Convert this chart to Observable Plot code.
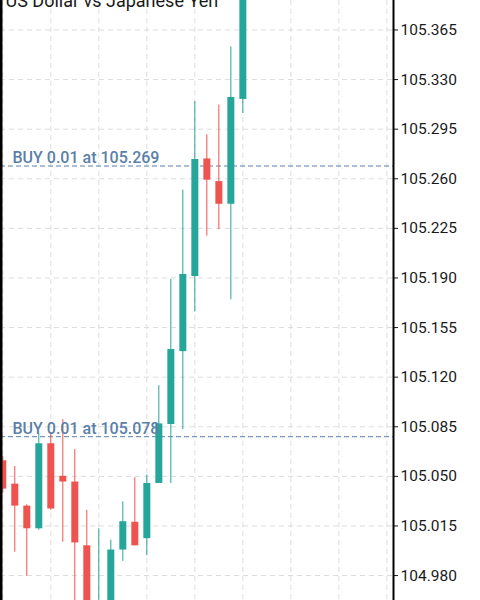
<!DOCTYPE html>
<html><head><meta charset="utf-8">
<script src="https://cdn.jsdelivr.net/npm/d3@7"></script>
<script src="https://cdn.jsdelivr.net/npm/@observablehq/plot@0.6"></script>
<style>body{margin:0;background:#fff;} svg{font-family:Roboto,sans-serif;}</style>
</head><body><div id="chart"></div>
<script>
const title = "US Dollar vs Japanese Yen";
const bars   = [0,1,2,3,4,5,6,7,8,9,10,11,12,13,14,15,16,17,18,19,20];
const opens  = [105.061,105.0445,105.029,105.013,105.073,105.050,105.046,105.001,104.950,104.958,104.998,105.0176,105.006,105.045,105.0866,105.138,105.191,105.274,105.258,105.242,105.316];
const closes = [105.041,105.029,105.013,105.073,105.027,105.046,105.003,104.950,104.958,104.998,105.018,105.001,105.045,105.087,105.1395,105.1925,105.2736,105.259,105.242,105.3174,105.400];
const highs  = [105.064,105.057,105.030,105.080,105.081,105.090,105.069,105.026,105.013,105.005,105.032,105.049,105.051,105.114,105.189,105.252,105.3145,105.291,105.312,105.353,105.410];
const lows   = [105.038,104.9965,104.9795,105.012,105.026,105.0035,104.955,104.945,104.945,104.955,104.990,105.001,104.994,105.045,105.045,105.083,105.166,105.2195,105.224,105.1746,105.306];
const yTicks = [104.980,105.015,105.050,105.085,105.120,105.155,105.190,105.225,105.260,105.295,105.330,105.365];
const gridBars = [0,4,8,12,16,20,24,28,32];
const orderPrices = [105.269,105.078];
const orderLabels = ["BUY 0.01 at 105.269","BUY 0.01 at 105.078"];
const xDomain = [-0.19, 32.55];
const yDomain = [104.9624, 105.3858];

const UP = "#26a69a", DOWN = "#ef5350";
const candles = bars.map((b, k) => ({i: b, open: opens[k], close: closes[k], high: highs[k], low: lows[k]}));
const orders = orderPrices.map((p, k) => ({price: p, label: orderLabels[k]}));
const col = d => d.close >= d.open ? UP : DOWN;

const chart = Plot.plot({
  width: 480, height: 600,
  marginLeft: 0, marginRight: 87, marginTop: 0, marginBottom: 0,
  style: {fontFamily: "Roboto, sans-serif", fontSize: "15.5px", background: "white", color: "#1a1a1a", overflow: "visible"},
  x: {domain: xDomain, axis: null},
  y: {domain: yDomain, axis: "right", ticks: yTicks, tickFormat: d3.format(".3f"), tickSize: 4, tickPadding: 3, label: null},
  marks: [
    Plot.gridY(yTicks, {stroke: "#dcdcdc", strokeOpacity: 1, strokeDasharray: "5,4"}),
    Plot.gridX(gridBars, {stroke: "#dcdcdc", strokeOpacity: 1, strokeDasharray: "5,4"}),
    Plot.ruleY(orders, {y: "price", stroke: "#5a7ea6", strokeWidth: 1, strokeDasharray: "5,3"}),
    Plot.ruleX(candles, {x: "i", y1: "low", y2: "high", stroke: col, strokeWidth: 1}),
    Plot.ruleX(candles, {x: "i", y1: "open", y2: "close", stroke: col, strokeWidth: 7}),
    Plot.text(orders, {y: "price", text: "label", frameAnchor: "left", textAnchor: "start", lineAnchor: "bottom", dx: 12, dy: -3, fill: "#5b80a8", fontSize: 16, fontWeight: 500}),
    Plot.text([title], {frameAnchor: "top-left", textAnchor: "start", lineAnchor: "bottom", dx: 5, dy: 6, fill: "#1a1a1a", fontSize: 18}),
    Plot.ruleX([xDomain[0]], {stroke: "black", strokeWidth: 4}),
    Plot.ruleX([xDomain[1]], {stroke: "black", strokeWidth: 2})
  ]
});
document.getElementById("chart").appendChild(chart);
</script></body></html>
